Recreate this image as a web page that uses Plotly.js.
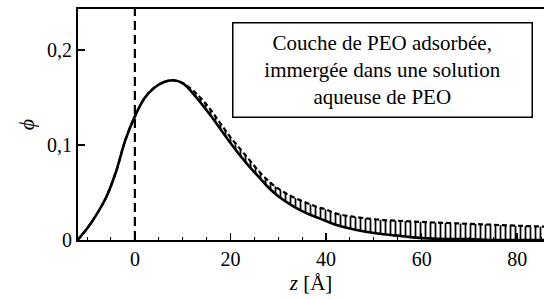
<!DOCTYPE html>
<html>
<head>
<meta charset="utf-8">
<script src="https://cdn.plot.ly/plotly-3.0.1.min.js"></script>
<style>html,body{margin:0;padding:0;background:#fff}#chart{width:544px;height:300px}</style>
</head>
<body>
<div id="chart"></div>
<script>
// profile positions z [Å]
const zValues = [-12,-10,-8,-6,-4,-2,0,2,4,6,8,10,12,14,16,18,20,22,24,26,28,30,32,34,36,38,40,42,45,48,52,56,60,65,70,75,80,86];
// solid (lower) profile phi
const phiLower = [0,0.012,0.027,0.045,0.071,0.105,0.130,0.149,0.160,0.166,0.168,0.165,0.155,0.143,0.130,0.116,0.102,0.089,0.077,0.066,0.055,0.046,0.039,0.033,0.028,0.024,0.020,0.016,0.012,0.009,0.006,0.004,0.002,0.001,0.001,0,0,0];
// dashed (upper) profile phi
const phiUpper = [0,0.012,0.027,0.045,0.071,0.105,0.130,0.149,0.160,0.166,0.168,0.165,0.158,0.148,0.136,0.122,0.108,0.096,0.084,0.072,0.062,0.054,0.048,0.043,0.039,0.035,0.032,0.028,0.025,0.023,0.021,0.020,0.019,0.018,0.017,0.016,0.015,0.014];
// vertical reference line (surface)
const surfaceZ = [0, 0];
const surfaceY = [0, 0.243];
// tick labels
const yTickVals = [0, 0.1, 0.2];
const yTickText = ["0", "0,1", "0,2"];
const xTickVals = [0, 20, 40, 60, 80];
const xTickText = ["0", "20", "40", "60", "80"];
const boxText = "Couche de PEO adsorbée,<br>immergée dans une solution<br>aqueuse de PEO";

const serif = "Liberation Serif, DejaVu Serif, serif";

const traces = [
  {x: zValues, y: phiLower, mode: 'lines', line: {color: '#000', width: 2.6, shape: 'spline'}, hoverinfo: 'skip'},
  {x: zValues, y: phiUpper, mode: 'lines', line: {color: '#000', width: 2.2, dash: '5px,3px', shape: 'spline'},
   fill: 'tonexty', fillcolor: 'rgba(0,0,0,0)',
   fillpattern: {shape: '|', size: 5, solidity: 0.35, fgcolor: '#000', bgcolor: 'rgba(0,0,0,0)'}, hoverinfo: 'skip'},
  {x: surfaceZ, y: surfaceY, mode: 'lines', line: {color: '#000', width: 2.2, dash: '9px,5px'}, hoverinfo: 'skip'}
];

const layout = {
  width: 544, height: 300,
  margin: {l: 78, r: 0, t: 9, b: 60},
  paper_bgcolor: '#fff', plot_bgcolor: '#fff',
  showlegend: false,
  font: {family: serif, size: 20, color: '#000'},
  xaxis: {
    range: [-11.9, 85.6], showgrid: false, zeroline: false,
    showline: true, linecolor: '#000', linewidth: 2, mirror: true,
    ticks: 'inside', ticklen: 7, tickwidth: 1.5, tickcolor: '#000',
    tickvals: xTickVals, ticktext: xTickText,
    minor: {dtick: 5, tick0: 0, ticks: 'inside', ticklen: 3, tickwidth: 1, tickcolor: '#000'},
    tickfont: {family: serif, size: 20, color: '#000'},
    title: {text: '<i>z</i> [Å]', font: {family: serif, size: 21, color: '#000'}, standoff: 6}
  },
  yaxis: {
    range: [0, 0.243], showgrid: false, zeroline: false,
    showline: true, linecolor: '#000', linewidth: 2,
    ticks: 'inside', ticklen: 7, tickwidth: 1.5, tickcolor: '#000',
    tickvals: yTickVals, ticktext: yTickText,
    tickfont: {family: serif, size: 20, color: '#000'},
    title: {text: '<i>ϕ</i>', font: {family: serif, size: 22, color: '#000'}, standoff: 6}
  },
  annotations: [{
    xref: 'paper', yref: 'paper', x: 0.654, y: 0.738, xanchor: 'center', yanchor: 'middle',
    text: boxText, showarrow: false, align: 'center',
    font: {family: serif, size: 21, color: '#000'},
    bordercolor: '#000', borderwidth: 1.5, borderpad: 2, bgcolor: '#fff',
    width: 294, height: 89
  }]
};

Plotly.newPlot('chart', traces, layout, {staticPlot: true, displayModeBar: false});
</script>
</body>
</html>
